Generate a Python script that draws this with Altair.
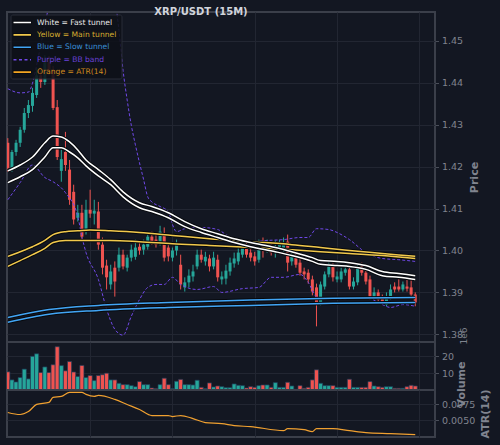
import altair as alt
import pandas as pd

BG = "#131722"
GRID = "#222632"
BORDER = "#3b3f4a"
TXT = "#80848f"
UP = "#26a69a"
DOWN = "#ef5350"
FONT = "DejaVu Sans"

# ---------------- candle data (15m XRP/USDT) ----------------
opens = [
    1.4257, 1.4197, 1.4235, 1.4257, 1.4288, 1.4328, 1.4345, 1.4371, 1.4418, 1.4402,
    1.4449, 1.4430, 1.4342, 1.4190, 1.4235, 1.4193, 1.4140, 1.4078, 1.4090, 1.4050,
    1.4097, 1.4088, 1.4093, 1.4014, 1.3964, 1.3919, 1.3959, 1.3959, 1.3990, 1.3959,
    1.3983, 1.3985, 1.4009, 1.4002, 1.4009, 1.4033, 1.4026, 1.4019, 1.4036, 1.4007,
    1.3983, 1.4000, 1.3966, 1.3912, 1.3924, 1.3938, 1.3962, 1.3990, 1.3974, 1.3981,
    1.3962, 1.3978, 1.3931, 1.3933, 1.3950, 1.3969, 1.3974, 1.3990, 1.4007, 1.3995,
    1.3986, 1.3978, 1.4014, 1.4002, 1.4007, 1.3995, 1.4002, 1.4005, 1.4021, 1.3974,
    1.3983, 1.3971, 1.3950, 1.3947, 1.3931, 1.3912, 1.3876, 1.3914, 1.3943, 1.3962,
    1.3931, 1.3931, 1.3947, 1.3955, 1.3914, 1.3924, 1.3962, 1.3947, 1.3931, 1.3888,
    1.3900, 1.3888, 1.3871, 1.3890, 1.3914, 1.3914, 1.3907, 1.3914, 1.3912, 1.3895,
]
closes = [
    1.4197, 1.4235, 1.4257, 1.4288, 1.4328, 1.4347, 1.4376, 1.4418, 1.4402, 1.4449,
    1.4430, 1.4340, 1.4223, 1.4218, 1.4204, 1.4121, 1.4074, 1.4090, 1.4033, 1.4097,
    1.4088, 1.4095, 1.4014, 1.3959, 1.3936, 1.3950, 1.3926, 1.3990, 1.3962, 1.3983,
    1.4002, 1.4007, 1.4000, 1.4014, 1.4033, 1.4021, 1.4014, 1.4045, 1.3983, 1.3986,
    1.4000, 1.4014, 1.3919, 1.3924, 1.3940, 1.3950, 1.3990, 1.3978, 1.3985, 1.3962,
    1.3983, 1.3936, 1.3938, 1.3952, 1.3971, 1.3981, 1.3995, 1.4012, 1.3990, 1.3983,
    1.3974, 1.4002, 1.4002, 1.4012, 1.3995, 1.4009, 1.4014, 1.4017, 1.3971, 1.3986,
    1.3966, 1.3947, 1.3943, 1.3931, 1.3902, 1.3876, 1.3919, 1.3943, 1.3962, 1.3936,
    1.3938, 1.3950, 1.3955, 1.3914, 1.3926, 1.3959, 1.3947, 1.3926, 1.3890, 1.3900,
    1.3883, 1.3878, 1.3890, 1.3907, 1.3907, 1.3907, 1.3919, 1.3909, 1.3895, 1.3876,
]
highs = [
    1.4268, 1.4240, 1.4264, 1.4295, 1.4340, 1.4359, 1.4388, 1.4435, 1.4430, 1.4466,
    1.4464, 1.4440, 1.4359, 1.4240, 1.4283, 1.4216, 1.4157, 1.4109, 1.4109, 1.4121,
    1.4145, 1.4121, 1.4116, 1.4031, 1.3978, 1.3966, 1.3974, 1.4007, 1.4002, 1.3990,
    1.4014, 1.4026, 1.4019, 1.4026, 1.4043, 1.4045, 1.4038, 1.4059, 1.4055, 1.4014,
    1.4007, 1.4026, 1.3990, 1.3936, 1.3955, 1.3966, 1.4002, 1.4002, 1.3997, 1.3990,
    1.3997, 1.3990, 1.3950, 1.3966, 1.3983, 1.3995, 1.4007, 1.4026, 1.4019, 1.4007,
    1.3997, 1.4026, 1.4031, 1.4026, 1.4019, 1.4024, 1.4026, 1.4031, 1.4038, 1.3997,
    1.3997, 1.3983, 1.3959, 1.3955, 1.3940, 1.3921, 1.3926, 1.3950, 1.3974, 1.3971,
    1.3950, 1.3959, 1.3964, 1.3964, 1.3936, 1.3966, 1.3971, 1.3955, 1.3940, 1.3912,
    1.3907, 1.3895, 1.3900, 1.3919, 1.3924, 1.3931, 1.3926, 1.3931, 1.3931, 1.3900,
]
lows = [
    1.4188, 1.4188, 1.4226, 1.4247, 1.4281, 1.4316, 1.4331, 1.4364, 1.4388, 1.4395,
    1.4418, 1.4335, 1.4216, 1.4164, 1.4190, 1.4109, 1.4062, 1.4069, 1.4026, 1.4038,
    1.4078, 1.4062, 1.4002, 1.3943, 1.3907, 1.3907, 1.3890, 1.3950, 1.3955, 1.3950,
    1.3974, 1.3978, 1.3990, 1.3990, 1.4002, 1.4014, 1.4007, 1.4012, 1.3974, 1.3974,
    1.3974, 1.3988, 1.3907, 1.3902, 1.3912, 1.3926, 1.3955, 1.3971, 1.3964, 1.3950,
    1.3955, 1.3926, 1.3919, 1.3919, 1.3940, 1.3959, 1.3966, 1.3983, 1.3983, 1.3974,
    1.3964, 1.3971, 1.3983, 1.3995, 1.3988, 1.3983, 1.3995, 1.3997, 1.3950, 1.3964,
    1.3959, 1.3940, 1.3931, 1.3921, 1.3893, 1.3819, 1.3869, 1.3907, 1.3936, 1.3926,
    1.3924, 1.3924, 1.3940, 1.3907, 1.3907, 1.3917, 1.3940, 1.3919, 1.3883, 1.3883,
    1.3876, 1.3871, 1.3867, 1.3883, 1.3900, 1.3902, 1.3902, 1.3902, 1.3888, 1.3867,
]
volumes = [  # x 1e6
    10.8, 6.0, 4.8, 7.4, 12.4, 6.6, 20.0, 21.5, 10.4, 13.7,
    10.4, 15.0, 25.7, 14.5, 11.4, 16.9, 10.7, 8.0, 14.6, 7.4,
    8.6, 5.6, 8.6, 9.1, 10.0, 6.0, 6.0, 4.0, 3.2, 3.2,
    2.6, 2.0, 5.0, 3.2, 3.2, 1.2, 0.8, 3.2, 7.0, 3.2,
    0.8, 5.2, 6.3, 3.2, 3.2, 3.0, 5.8, 1.6, 0.8, 4.2,
    1.8, 2.4, 2.0, 1.4, 1.4, 3.6, 2.8, 2.6, 1.2, 2.0,
    1.6, 2.6, 3.0, 3.0, 1.6, 4.4, 1.6, 1.6, 4.6, 2.4,
    0.4, 2.6, 1.0, 1.6, 6.0, 12.0, 4.0, 2.6, 2.6, 2.6,
    1.6, 1.6, 1.6, 6.4, 1.6, 1.6, 1.6, 1.6, 5.0, 2.4,
    2.0, 1.6, 2.0, 2.0, 1.0, 1.0, 1.0, 2.0, 2.8, 2.4,
]

# ---------------- indicator lines (sampled by candle index) ----------------
fast_idx = [0, 3, 6, 9, 11, 13, 15, 17, 19, 22, 25, 28, 32, 35, 39, 43, 47, 51, 55, 59, 65, 69, 74, 76, 80, 83, 87, 91, 95, 99]
fast_a = [1.4190, 1.4204, 1.4223, 1.4257, 1.4273, 1.4271, 1.4259, 1.4240, 1.4216, 1.4193,
          1.4169, 1.4140, 1.4114, 1.4105, 1.4090, 1.4069, 1.4052, 1.4040, 1.4028, 1.4019,
          1.4007, 1.3997, 1.3983, 1.3976, 1.3974, 1.3971, 1.3964, 1.3950, 1.3945, 1.3940]
fast_b = [1.4162, 1.4176, 1.4193, 1.4223, 1.4245, 1.4245, 1.4235, 1.4221, 1.4202, 1.4178,
          1.4157, 1.4128, 1.4102, 1.4093, 1.4078, 1.4057, 1.4043, 1.4031, 1.4019, 1.4009,
          1.3997, 1.3988, 1.3974, 1.3967, 1.3964, 1.3962, 1.3955, 1.3940, 1.3936, 1.3931]

main_idx = [0, 3, 6, 9, 11, 14, 17, 20, 25, 32, 40, 49, 59, 69, 76, 83, 91, 99]
main_a = [1.3986, 1.3997, 1.4009, 1.4024, 1.4038, 1.4045, 1.4047, 1.4049, 1.4047,
          1.4043, 1.4036, 1.4028, 1.4021, 1.4014, 1.4007, 1.4000, 1.3993, 1.3986]
main_b = [1.3962, 1.3976, 1.3990, 1.4005, 1.4019, 1.4024, 1.4024, 1.4024, 1.4024,
          1.4021, 1.4016, 1.4012, 1.4007, 1.4002, 1.3997, 1.3993, 1.3988, 1.3981]

slow_idx = [0, 10, 22, 39, 59, 79, 99]
slow_a = [1.3840, 1.3859, 1.3869, 1.3876, 1.3882, 1.3886, 1.3888]
slow_b = [1.3829, 1.3848, 1.3857, 1.3864, 1.3869, 1.3874, 1.3876]

bbu_idx = [0, 3, 5, 6, 7, 8, 9, 10, 12, 15, 18, 21, 24, 26, 27, 28, 29, 30, 31, 32,
           33, 34, 35, 37, 39, 40, 41, 43, 47, 51, 53, 56, 59, 63, 67, 71, 73, 75, 78,
           80, 83, 87, 91, 95, 99]
bb_upper = [1.4386, 1.4376, 1.4378, 1.4399, 1.4442, 1.4490, 1.4537, 1.4585, 1.4625, 1.4650,
            1.4660, 1.4655, 1.4640, 1.4600, 1.4525, 1.4430, 1.4359, 1.4299, 1.4252, 1.4209,
            1.4169, 1.4128, 1.4116, 1.4105, 1.4093, 1.4062, 1.4045, 1.4052, 1.4055, 1.4050,
            1.4038, 1.4026, 1.4021, 1.4024, 1.4026, 1.4031, 1.4031, 1.4052, 1.4050,
            1.4043, 1.4026, 1.3995, 1.3981, 1.3978, 1.3974]
bbl_idx = [0, 3, 6, 9, 11, 14, 17, 18, 19, 22, 24, 26, 28, 30, 32, 34, 36, 38, 40, 42,
           46, 50, 52, 57, 61, 64, 67, 71, 73, 75, 79, 87, 91, 93, 96, 99]
bb_lower = [1.4121, 1.4162, 1.4204, 1.4174, 1.4164, 1.4138, 1.4081, 1.4033, 1.3995, 1.3931,
            1.3860, 1.3812, 1.3798, 1.3843, 1.3883, 1.3912, 1.3919, 1.3919, 1.3936, 1.3919,
            1.3907, 1.3914, 1.3900, 1.3909, 1.3912, 1.3936, 1.3936, 1.3943, 1.3924, 1.3890,
            1.3883, 1.3888, 1.3871, 1.3864, 1.3871, 1.3867]

atr_idx = [0, 3, 5, 7, 10, 11, 13, 15, 18, 19, 21, 22, 26, 29, 32, 35, 39, 40, 42, 45,
           48, 52, 55, 59, 67, 68, 72, 74, 75, 79, 83, 87, 93, 99]
atr = [0.00623, 0.00591, 0.00638, 0.00750, 0.00782, 0.00861, 0.00877, 0.00941, 0.00941, 0.00909,
       0.00877, 0.00893, 0.00830, 0.00750, 0.00670, 0.00575, 0.00575, 0.00559, 0.00575, 0.00527,
       0.00463, 0.00447, 0.00416, 0.00400, 0.00336, 0.00368, 0.00352, 0.00320, 0.00368, 0.00368,
       0.00336, 0.00304, 0.00288, 0.00272]

legend_labels = ["White = Fast tunnel", "Yellow = Main tunnel", "Blue = Slow tunnel",
                 "Purple = BB band", "Orange = ATR(14)"]
legend_line_colors = ["#ffffff", "#f2c94c", "#42a5f5", "#7048e8", "#f5a623"]
legend_text_colors = ["#e8e8e8", "#d8ad30", "#3a8fd6", "#6a42d8", "#d18a1e"]

price_ticks = [1.38, 1.39, 1.40, 1.41, 1.42, 1.43, 1.44, 1.45]

# ---------------- frames ----------------
n = len(closes)
candles = pd.DataFrame({"i": list(range(n)), "open": opens, "close": closes,
                        "high": highs, "low": lows, "vol": volumes})
candles["dir"] = ["up" if c >= o else "down" for o, c in zip(opens, closes)]
candles["x0"] = candles["i"] - 0.5
candles["x1"] = candles["i"] + 0.5


def sdf(name, idx, vals):
    return pd.DataFrame({"series": name, "i": idx, "v": vals})


tunnel_groups = [
    ("#42a5f5", pd.concat([sdf("slow_a", slow_idx, slow_a), sdf("slow_b", slow_idx, slow_b)], ignore_index=True)),
    ("#f2c94c", pd.concat([sdf("main_a", main_idx, main_a), sdf("main_b", main_idx, main_b)], ignore_index=True)),
    ("#ffffff", pd.concat([sdf("fast_a", fast_idx, fast_a), sdf("fast_b", fast_idx, fast_b)], ignore_index=True)),
]
bands = pd.concat([sdf("bbu", bbu_idx, bb_upper), sdf("bbl", bbl_idx, bb_lower)], ignore_index=True)
atr_df = pd.DataFrame({"i": atr_idx, "v": atr})

# ---------------- scales / axes ----------------
XS = alt.Scale(domain=[-0.2, 103.8], nice=False, zero=False)
XAX = alt.Axis(title=None, labels=False, ticks=False, domain=False, grid=True,
               values=[20, 40, 60, 80, 100], gridColor=GRID)
PS = alt.Scale(domain=[1.37817, 1.4569], nice=False, zero=False)
PAX = alt.Axis(orient="right", values=price_ticks, format=".2f", title="Price",
               titleAngle=270, titleBaseline="top", titlePadding=6, grid=True, gridColor=GRID)
DIRC = alt.Color("dir:N", scale=alt.Scale(domain=["up", "down"], range=[UP, DOWN]), legend=None)

x_i = alt.X("i:Q", scale=XS, axis=XAX)

base_c = alt.Chart(candles)
wicks = base_c.mark_rule(strokeWidth=1, clip=True).encode(
    x=x_i, y=alt.Y("low:Q", scale=PS, axis=PAX), y2="high:Q", color=DIRC)
bodies = base_c.mark_rule(strokeWidth=3, clip=True).encode(
    x=x_i, y=alt.Y("open:Q", scale=PS, axis=PAX), y2="close:Q", color=DIRC)

band_lines = alt.Chart(bands).mark_line(
    strokeWidth=1, strokeDash=[3, 2], color="#7048e8", clip=True, interpolate="monotone"
).encode(x=x_i, y=alt.Y("v:Q", scale=PS, axis=PAX), detail="series:N")

tunnel_layers = []
for col, df in tunnel_groups:
    tunnel_layers.append(alt.Chart(df).mark_line(
        strokeWidth=3.4, color="#07090d", clip=True, interpolate="monotone"
    ).encode(x=x_i, y=alt.Y("v:Q", scale=PS, axis=PAX), detail="series:N"))
    tunnel_layers.append(alt.Chart(df).mark_line(
        strokeWidth=1.5, color=col, clip=True, interpolate="monotone"
    ).encode(x=x_i, y=alt.Y("v:Q", scale=PS, axis=PAX), detail="series:N"))

one = pd.DataFrame({"k": [0]})
legend_layers = [
    alt.Chart(one).mark_rect(fill="#0e1118", opacity=0.88, stroke="#2c303b", strokeWidth=1,
                             cornerRadius=2).encode(
        x=alt.value(4), x2=alt.value(115), y=alt.value(3), y2=alt.value(67))
]
for k, (lab, lc, tc) in enumerate(zip(legend_labels, legend_line_colors, legend_text_colors)):
    yk = 10.5 + 12.4 * k
    dash = [3, 2.5] if k == 3 else [1, 0]
    if k != 3:
        legend_layers.append(alt.Chart(one).mark_rule(strokeWidth=3.2, color="#07090d").encode(
            x=alt.value(6), x2=alt.value(24.5), y=alt.value(yk)))
    legend_layers.append(alt.Chart(one).mark_rule(
        strokeWidth=1.6, color=lc, strokeDash=dash).encode(
        x=alt.value(6.5), x2=alt.value(24), y=alt.value(yk)))
    legend_layers.append(alt.Chart(pd.DataFrame({"t": [lab]})).mark_text(
        align="left", baseline="middle", font=FONT, fontSize=7.6, color=tc).encode(
        x=alt.value(30), y=alt.value(yk), text="t:N"))

title_layer = alt.Chart(pd.DataFrame({"t": ["XRP/USDT (15M)"]})).mark_text(
    align="center", baseline="middle", font=FONT, fontSize=10, fontWeight="bold",
    color="#d1d4dc").encode(x=alt.value(194), y=alt.value(-0.5), text="t:N")

main = alt.layer(wicks, bodies, band_lines, *tunnel_layers,
                 *legend_layers, title_layer).properties(width=428, height=330)

# volume panel
VS = alt.Scale(domain=[0, 28.5], nice=False, zero=False)
VAX = alt.Axis(orient="right", values=[10, 20], format="d", title="Volume", titleAngle=270,
               titleBaseline="top", titlePadding=2, titleY=42, grid=True, gridColor=GRID)
vol_bars = base_c.mark_bar(stroke="#1f3c58", strokeWidth=0.7, clip=True).encode(
    x=alt.X("x0:Q", scale=XS, axis=XAX), x2="x1:Q",
    y=alt.Y("vol:Q", scale=VS, axis=VAX, stack=None), y2=alt.datum(0), color=DIRC)
vol_exp = alt.Chart(pd.DataFrame({"t": ["1e6"]})).mark_text(
    font=FONT, fontSize=9, color=TXT, angle=270, align="center", baseline="middle").encode(
    x=alt.value(457), y=alt.value(-6), text="t:N")
vol = alt.layer(vol_bars, vol_exp).properties(width=428, height=48)

# ATR panel
AS = alt.Scale(domain=[0.00236, 0.00978], nice=False, zero=False)
AAX = alt.Axis(orient="right", values=[0.005, 0.0075], format=".4f", title="ATR(14)",
               titleAngle=270, titleBaseline="top", titlePadding=5, grid=True, gridColor=GRID)
atr_line = alt.Chart(atr_df).mark_line(strokeWidth=1.2, color="#f0a030", clip=True,
                                       interpolate="monotone").encode(
    x=x_i, y=alt.Y("v:Q", scale=AS, axis=AAX))
atr_panel = atr_line.properties(width=428, height=47)

chart = alt.vconcat(main, vol, atr_panel, spacing=0, bounds="flush").configure(
    background=BG, padding={"left": 6, "top": 5, "right": 8, "bottom": 6}
).configure_view(
    stroke=BORDER, strokeWidth=2
).configure_axis(
    labelFont=FONT, labelFontSize=9.5, labelColor=TXT, labelPadding=3,
    titleFont=FONT, titleFontSize=11, titleFontWeight="bold", titleColor=TXT,
    tickColor="#4a4e59", tickSize=3.5, domain=False
)

chart.save("out.html", embed_options={"renderer": "svg", "actions": False})
